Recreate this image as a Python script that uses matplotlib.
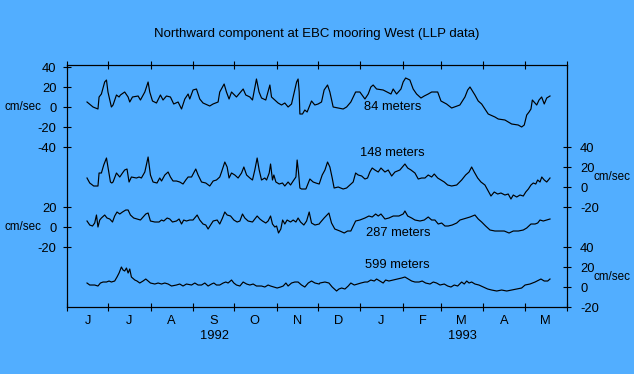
import matplotlib
matplotlib.use('Agg')
import matplotlib.pyplot as plt
import matplotlib.dates as mdates
import numpy as np
import pandas as pd

plt.rcParams['font.family'] = ['Liberation Sans', 'DejaVu Sans']

# days since 1992-06-01, values in cm/sec
s84_day = [14.6, 19.0, 22.6, 23.4, 25.1, 27.5, 28.8, 29.9, 32.4, 33.6,
           36.1, 38.0, 39.0, 42.1, 44.6, 45.8, 47.8, 51.9, 53.6, 56.8,
           59.2, 60.4, 62.4, 65.3, 68.2, 70.1, 72.6, 75.5, 77.9, 81.1,
           83.6, 86.0, 88.4, 89.6, 92.0, 94.5, 96.9, 99.3, 104.2, 106.6,
           110.3, 111.5, 114.7, 116.4, 118.3, 120.1, 123.7, 128.6, 130.5, 133.5,
           135.4, 138.3, 140.2, 142.0, 145.1, 148.1, 149.3, 151.7, 154.1, 156.6,
           159.0, 161.4, 163.9, 167.6, 168.7, 169.5, 170.0, 171.9, 173.6, 175.3,
           177.3, 178.5, 180.9, 183.3, 185.8, 187.7, 190.2, 191.9, 194.3, 198.0,
           201.6, 204.1, 207.2, 210.7, 213.8, 217.5, 219.9, 221.8, 223.5, 226.0,
           230.8, 236.5, 238.1, 240.6, 243.8, 245.4, 247.2, 250.3, 252.7, 255.2,
           258.4, 260.8, 263.7, 266.2, 270.6, 273.0, 277.1, 280.8, 286.8, 290.5,
           292.5, 294.2, 297.8, 300.2, 302.7, 305.1, 307.5, 312.4, 314.8, 319.7,
           322.1, 324.6, 329.4, 331.9, 333.8, 335.6, 337.3, 338.7, 339.7, 342.9,
           344.6, 346.5, 348.4, 350.2, 352.6]
s84_val = [5, 0, -2, 10, 13, 25, 27, 15, 0, 2,
           12, 10, 12, 15, 10, 5, 10, 11, 7, 15,
           25, 15, 6, 4, 12, 7, 11, 10, 3, 5,
           -2, 8, 13, 8, 17, 18, 8, 4, 1, 3,
           5, 15, 23, 15, 8, 15, 10, 18, 12, 10,
           7, 28, 15, 9, 7, 22, 10, 7, 4, 2,
           4, 0, 3, 25, 28, 15, -7, -7, -3, -5,
           2, 6, 2, 3, 5, 17, 22, 15, 0, -1,
           -2, 0, 5, 15, 15, 8, 13, 20, 22, 18,
           17, 13, 18, 13, 18, 25, 29, 27, 18, 13,
           9, 11, 13, 15, 15, 6, 3, -1, 2, 10,
           17, 20, 12, 6, 3, -2, -7, -10, -12, -13,
           -15, -17, -18, -20, -18, -8, -5, -2, 7, 2,
           7, 10, 3, 9, 11]

s148_day = [14.6, 16.6, 19.5, 22.6, 23.4, 25.1, 26.8, 28.8, 29.9, 31.7,
            32.7, 33.6, 36.1, 38.5, 40.5, 42.1, 43.8, 45.3, 47.0, 50.7,
            52.6, 54.3, 56.8, 59.2, 60.9, 62.8, 65.7, 67.7, 69.0, 71.4,
            73.8, 75.5, 77.4, 79.9, 82.3, 84.7, 86.7, 88.4, 90.9, 94.0,
            95.7, 98.2, 101.3, 104.2, 106.7, 109.1, 111.5, 112.8, 114.0, 115.2,
            116.9, 118.3, 120.1, 122.5, 124.9, 127.4, 129.1, 131.1, 133.5, 135.4,
            137.1, 138.8, 140.3, 142.0, 144.4, 145.7, 147.6, 148.6, 150.0, 151.0,
            152.5, 154.9, 157.3, 159.0, 161.4, 163.2, 165.1, 167.1, 168.0, 169.0,
            170.0, 171.2, 174.4, 177.3, 179.7, 181.7, 184.1,
            186.3, 188.3, 190.2, 191.9, 193.6, 195.0, 198.0, 201.6, 204.1, 206.5,
            208.9, 210.7, 212.6, 215.1, 217.5, 219.4, 221.1, 222.8, 224.8, 227.2,
            229.2, 232.1, 234.5, 237.0, 239.4, 243.0, 245.4, 246.7, 248.7, 251.1,
            254.0, 256.4, 258.9, 261.3, 263.7, 266.2, 268.1, 270.6, 273.0, 275.4,
            277.9, 280.8, 284.5, 288.1, 291.0, 293.5, 295.4, 297.3, 299.8, 302.2,
            305.1, 307.5, 309.5, 311.9, 314.4, 316.8, 319.7, 322.1, 324.1, 325.8,
            328.3, 330.7, 333.1, 334.9, 336.8, 338.7, 340.4, 342.2, 343.6, 345.3,
            346.6, 348.4, 350.2, 352.6]
s148_val = [9, 4, 1, 1, 14, 14, 22, 29, 20, 5,
            4, 5, 14, 10, 14, 17, 18, 5, 10, 9,
            10, 9, 15, 30, 12, 5, 4, 9, 6, 12,
            15, 10, 6, 6, 5, 3, 7, 10, 10, 18,
            12, 5, 4, 1, 6, 7, 10, 15, 20, 25,
            20, 9, 14, 12, 9, 14, 20, 12, 9, 7,
            17, 29, 17, 7, 9, 7, 14, 23, 7, 12,
            5, 3, 4, 1, 5, 2, 6, 10, 27, 15,
            -1, -2, -2, 8, 5, 4, 3,
            12, 17, 25, 20, 9, -1, 0, -2, -1, 2,
            5, 14, 12, 11, 8, 9, 15, 19, 17, 15,
            19, 15, 17, 11, 15, 17, 21, 23, 19, 17,
            14, 8, 9, 9, 12, 10, 13, 9, 7, 5,
            2, 1, 2, 7, 12, 15, 20, 15, 9, 5,
            2, -4, -9, -5, -7, -6, -8, -7, -12, -8,
            -10, -8, -9, -5, -2, 2, 4, 3, 7, 5,
            10, 7, 5, 9]

s287_day = [14.6, 16.6, 18.6, 20.2, 21.5, 22.6, 23.9, 25.1, 27.5, 29.2,
            31.2, 33.2, 34.8, 36.5, 38.5, 40.5, 42.9, 44.6, 46.3, 48.7,
            51.1, 53.6, 55.5, 57.5, 59.2, 60.9, 64.1, 67.2, 69.0, 70.6,
            73.1, 75.0, 77.0, 79.9, 81.8, 83.6, 85.2, 87.2, 89.6, 92.0,
            95.0, 96.9, 99.3, 101.3, 103.0, 104.8, 106.7, 109.6, 111.5, 113.5,
            115.2, 116.9, 119.4, 121.8, 124.2, 126.2, 128.1, 129.8, 132.2, 135.4,
            137.1, 138.8, 140.8, 142.7, 145.1, 146.8, 148.6, 150.0, 151.7, 153.0,
            154.4, 156.1, 157.4, 159.0, 160.7, 163.2, 165.1, 167.1, 168.7, 170.5,
            172.9, 174.9, 176.8, 178.5, 181.0, 184.1,
            184.6, 187.7, 191.2, 193.1, 195.5, 199.2, 202.4, 204.8, 207.2, 210.7,
            213.8, 217.5, 220.4, 222.8, 225.3, 227.2, 229.2, 232.1, 235.0, 238.2,
            242.3, 245.4, 246.7, 248.7, 251.6, 254.0, 257.7, 260.8, 263.7, 266.2,
            268.6, 271.0, 273.5, 275.9, 278.3, 281.2, 284.5, 286.9, 289.3, 291.8,
            294.2, 295.9, 297.8, 300.2, 302.7, 305.6, 308.8, 312.4, 316.1, 319.2,
            322.7, 325.8, 329.5, 333.1, 335.6, 338.7, 341.7, 343.6, 345.3, 347.7,
            350.2, 352.6]
s287_val = [6, 2, 1, 4, 12, 0, 7, 9, 12, 9,
            8, 5, 11, 15, 13, 15, 17, 17, 12, 9,
            8, 7, 10, 13, 14, 6, 5, 5, 7, 6,
            9, 8, 5, 6, 8, 3, 7, 6, 7, 7,
            12, 7, 3, 2, -2, 2, 6, 7, 3, 9,
            15, 12, 11, 7, 5, 6, 13, 9, 6, 5,
            8, 11, 8, 6, 4, 6, 11, 3, 0, 1,
            -6, -2, 7, 3, 7, 5, 7, 5, 9, 5,
            2, 6, 15, 4, 2, 3,
            4, 9, 14, 4, -2, -4, -6, -4, -4, 6,
            7, 9, 11, 10, 13, 11, 13, 8, 9, 11,
            11, 13, 16, 11, 9, 7, 6, 7, 10, 7,
            7, 3, 4, 1, 1, 2, 4, 7, 8, 9,
            10, 11, 12, 8, 5, 1, -3, -4, -4, -4,
            -6, -4, -4, -3, -1, 3, 3, 4, 7, 6,
            7, 8]

s599_day = [14.6, 16.6, 20.2, 22.6, 24.4, 26.3, 28.8, 30.7, 32.4, 34.8,
            36.5, 38.0, 39.7, 40.9, 42.1, 43.4, 44.6, 45.8, 47.0, 49.5,
            51.1, 53.1, 55.5, 57.5, 59.2, 60.9, 64.1, 66.5, 69.0, 71.4,
            73.8, 76.3, 79.9, 82.3, 84.7, 87.2, 90.9, 93.3, 95.7, 98.2,
            100.6, 103.0, 105.5, 107.2, 109.1, 111.5, 114.0, 115.9, 117.6, 120.1,
            121.8, 123.7, 126.2, 128.6, 131.1, 133.5, 135.9, 138.3, 142.0, 144.4,
            146.8, 148.6, 151.0, 153.4, 155.9, 157.8, 159.8, 161.4, 163.9, 166.3,
            168.7, 171.2, 173.6, 176.1, 178.5, 181.0, 184.1,
            184.6, 188.3, 191.2, 193.6, 196.8, 198.5, 200.5, 202.9, 205.3, 207.2,
            209.7, 212.1, 214.6, 217.5, 219.4, 221.8, 224.3, 226.0, 228.4, 230.8,
            232.6, 235.0, 238.2, 241.4, 244.3, 246.7, 249.1, 251.6, 254.0, 257.0,
            259.3, 261.8, 265.0, 267.4, 269.8, 272.3, 275.4, 277.9, 280.3, 282.7,
            285.2, 288.1, 290.0, 291.8, 293.5, 295.4, 297.8, 300.7, 303.9, 307.1,
            310.0, 313.7, 317.3, 321.0, 324.6, 328.3, 331.9, 334.4, 338.0, 341.7,
            344.6, 346.0, 348.4, 350.9, 352.6]
s599_val = [4, 2, 2, 1, 4, 5, 5, 6, 5, 6,
            10, 14, 20, 17, 16, 19, 14, 18, 10, 7,
            6, 4, 6, 8, 6, 4, 3, 4, 3, 4,
            3, 1, 2, 3, 1, 3, 2, 4, 2, 2,
            4, 1, 3, 4, 2, 2, 4, 5, 4, 7,
            4, 2, 1, 5, 3, 2, 3, 1, 1, 0,
            2, 1, 0, -1, 0, 1, 4, 1, 4, 5,
            5, 2, 0, 4, 6, 4, 3,
            4, 5, 4, 0, -4, -2, -1, -2, 1, 4,
            2, 3, 4, 5, 5, 7, 6, 8, 6, 4,
            7, 6, 7, 8, 9, 10, 8, 6, 5, 5,
            6, 4, 3, 5, 4, 2, 3, 1, 0, 2,
            1, 5, 3, 6, 4, 5, 3, 2, 0, -2,
            -3, -4, -3, -4, -3, -2, -1, 2, 3, 5,
            7, 8, 6, 6, 8]

depth_labels = ['84 meters', '148 meters', '287 meters', '599 meters']
month_letters = ['J', 'J', 'A', 'S', 'O', 'N', 'D', 'J', 'F', 'M', 'A', 'M']

bg = '#52AEFF'
start = pd.Timestamp('1992-06-01')

def to_dates(days):
    return start + pd.to_timedelta(np.array(days), unit='D')

fig = plt.figure(figsize=(6.34, 3.74), dpi=100, facecolor=bg)
ax = fig.add_axes([0.1057, 0.1791, 0.7886, 0.6471])
ax.set_facecolor(bg)

# each depth is shifted down so the four traces stack
offsets = [0, -80, -120, -180]
series = [(s84_day, s84_val), (s148_day, s148_val), (s287_day, s287_val), (s599_day, s599_val)]
for (d, v), off in zip(series, offsets):
    ax.plot(to_dates(d), np.array(v) + off, color='black', lw=0.85)

ax.set_xlim(pd.Timestamp('1992-06-01'), pd.Timestamp('1993-06-01'))
ax.set_ylim(-200, 42)

ax.xaxis.set_major_locator(mdates.MonthLocator())
ax.xaxis.set_major_formatter(plt.NullFormatter())
ax.xaxis.set_minor_locator(mdates.MonthLocator(bymonthday=16))
ax.xaxis.set_minor_formatter(plt.FixedFormatter(month_letters))
ax.tick_params(axis='x', which='major', direction='inout', length=6, width=0.8, top=True)
ax.tick_params(axis='x', which='minor', length=0, pad=6, labelsize=9.3)

ax.set_yticks([40, 20, 0, -20, -40, -100, -120, -140])
ax.set_yticklabels(['40', '20', '0', '-20', '-40', '20', '0', '-20'])
ax.tick_params(axis='y', direction='inout', length=6, width=0.8, pad=4.5, labelsize=9.3)

ax2 = ax.twinx()
ax2.set_ylim(-200, 42)
ax2.set_yticks([-40, -60, -80, -100, -140, -160, -180, -200])
ax2.set_yticklabels(['40', '20', '0', '-20', '40', '20', '0', '-20'])
ax2.tick_params(axis='y', direction='inout', length=6, width=0.8, pad=6.5, labelsize=9.3)

for a in (ax, ax2):
    for sp in a.spines.values():
        sp.set_linewidth(0.8)

fs = 9.3
tr = ax.get_yaxis_transform()
ax.text(-0.052, 0, 'cm/sec', transform=tr, ha='right', va='center', fontsize=8.4)
ax.text(-0.052, -120, 'cm/sec', transform=tr, ha='right', va='center', fontsize=8.4)
ax.text(1.054, -70, 'cm/sec', transform=tr, ha='left', va='center', fontsize=8.4)
ax.text(1.054, -170, 'cm/sec', transform=tr, ha='left', va='center', fontsize=8.4)

label_pos = [(237.4, 0), (237.4, -46), (242.0, -126), (241.0, -158)]
for txt, (d, y) in zip(depth_labels, label_pos):
    ax.text(start + pd.Timedelta(days=d), y, txt, ha='center', va='center', fontsize=fs)

xtr = ax.get_xaxis_transform()
ax.text(pd.Timestamp('1992-09-17'), -0.12, '1992', transform=xtr, ha='center', va='center', fontsize=fs)
ax.text(pd.Timestamp('1993-03-17'), -0.12, '1993', transform=xtr, ha='center', va='center', fontsize=fs)

fig.text(0.5, 0.91, 'Northward component at EBC mooring West (LLP data)',
         ha='center', va='center', fontsize=9.5)

fig.savefig('out.png', dpi=100, facecolor=bg)
